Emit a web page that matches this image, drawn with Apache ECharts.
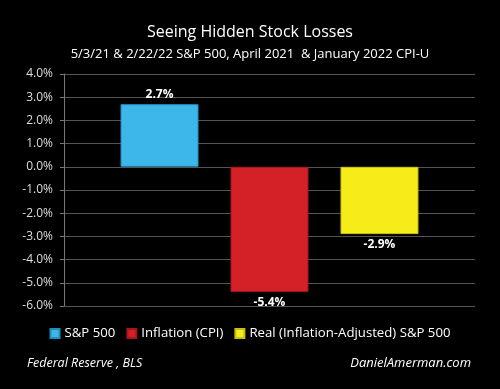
<!DOCTYPE html>
<html>
<head>
<meta charset="utf-8">
<script src="https://cdn.jsdelivr.net/npm/echarts@6/dist/echarts.min.js"></script>
<style>html,body{margin:0;padding:0;background:#000;}#c{width:500px;height:389px;}</style>
</head>
<body>
<div id="c"></div>
<script>
var categories = [''];
var seriesNames = ['S&P 500', 'Inflation (CPI)', 'Real (Inflation-Adjusted) S&P 500'];
var seriesValues = [[2.7], [-5.4], [-2.9]];
var seriesColors = ['#3db7ea', '#d42128', '#f6ec1a'];
var seriesBorders = ['#1f8fc0', '#a5151b', '#c8bf10'];
var labelPositions = ['top', 'bottom', 'bottom'];

var chart = echarts.init(document.getElementById('c'));
var font = '"Open Sans", Lato, sans-serif';
var series = seriesNames.map(function (n, i) {
  return {
    name: n,
    type: 'bar',
    data: seriesValues[i],
    barWidth: 78,
    barGap: '41%',
    itemStyle: { color: seriesColors[i], borderColor: seriesBorders[i], borderWidth: 1 },
    label: {
      show: true, position: labelPositions[i], distance: 4,
      color: '#fff', fontWeight: 'bold', fontSize: 12, fontFamily: font,
      formatter: function (p) { return p.value.toFixed(1) + '%'; }
    }
  };
});
chart.setOption({
  backgroundColor: '#000',
  animation: false,
  title: [
    { text: 'Seeing Hidden Stock Losses', left: 'center', top: 19,
      textStyle: { color: '#fff', fontSize: 16, fontWeight: 'normal', fontFamily: font } },
    { text: '5/3/21 & 2/22/22 S&P 500, April 2021  & January 2022 CPI-U', left: 'center', top: 43,
      textStyle: { color: '#fff', fontSize: 13, fontWeight: 'normal', fontFamily: font } },
    { text: 'Federal Reserve , BLS', left: 22, top: 352,
      textStyle: { color: '#fff', fontSize: 12.5, fontStyle: 'italic', fontWeight: 'normal', fontFamily: font } },
    { text: 'DanielAmerman.com', right: 24, top: 352,
      textStyle: { color: '#fff', fontSize: 13, fontStyle: 'italic', fontWeight: 'normal', fontFamily: font } }
  ],
  legend: {
    top: 322, left: 'center', itemWidth: 9, itemHeight: 9, itemGap: 11,
    icon: 'rect',
    textStyle: { color: '#fff', fontSize: 13.2, fontFamily: font },
    data: seriesNames
  },
  grid: { left: 64, right: 25, top: 74, bottom: 83 },
  xAxis: {
    type: 'category', data: categories,
    axisLine: { show: false }, axisTick: { show: false }, axisLabel: { show: false }
  },
  yAxis: {
    type: 'value', min: -6, max: 4, interval: 1,
    axisLine: { show: true, lineStyle: { color: '#777' } },
    axisTick: { show: true, length: 4, lineStyle: { color: '#777' } },
    splitLine: { lineStyle: { color: '#555', width: 1 } },
    axisLabel: { color: '#ddd', fontSize: 12, fontFamily: font, margin: 11,
      formatter: function (v) { return v.toFixed(1) + '%'; } }
  },
  series: series
});
</script>
</body>
</html>
